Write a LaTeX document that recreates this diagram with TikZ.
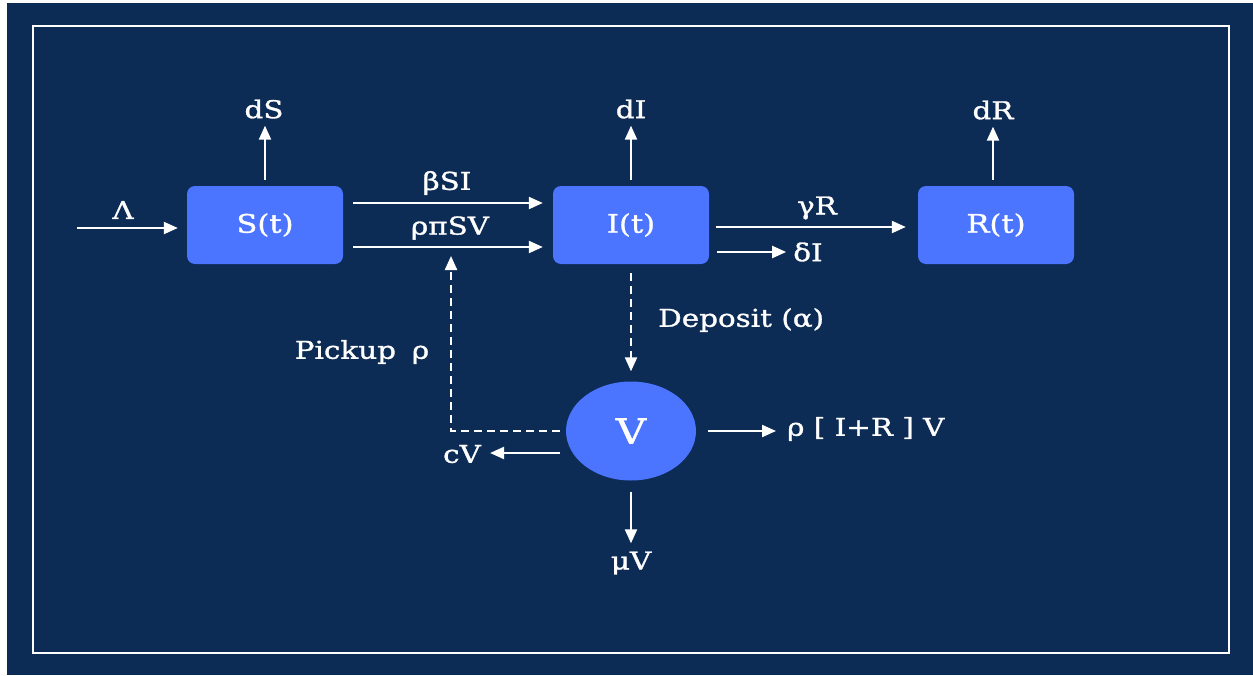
\documentclass[tikz,border=0pt]{standalone}
\usepackage{fontspec}
\setmainfont{DejaVu Serif}[FakeStretch=1.2,FakeBold=1.2]
\usetikzlibrary{arrows.meta,shapes.geometric}
\definecolor{navy}{RGB}{12,43,85}
\definecolor{boxblue}{RGB}{75,116,255}
\begin{document}
\begin{tikzpicture}[x=1pt,y=-1pt,
  box/.style={fill=boxblue,rounded corners=8pt,minimum width=156pt,minimum height=78pt,text=white,font=\fontsize{25.5}{29}\selectfont,inner sep=0pt},
  lbl/.style={text=white,font=\fontsize{24.5}{28}\selectfont,inner sep=2pt},
  arr/.style={draw=white,line width=2.2pt,-{Triangle[length=14pt,width=12pt]}},
  darr/.style={arr,dash pattern=on 8pt off 5pt}]
\useasboundingbox (0,0) rectangle (1253,675);
\fill[white] (0,0) rectangle (1253,675);
\fill[navy] (7,3) rectangle (1253,675);
\draw[white,line width=2.4pt] (33,26) rectangle (1229,653);

% compartments
\node[box] (S) at (265,225) {S(t)};
\node[box] (I) at (631,225) {I(t)};
\node[box] (R) at (996,225) {R(t)};
\node[ellipse,fill=boxblue,minimum width=130pt,minimum height=99pt,text=white,font=\fontsize{35}{39}\selectfont,inner sep=0pt] (V) at (631,431) {V};

% labels
\node[lbl] (lamL) at (123,210) {Λ};
\node[lbl] (dS) at (264,109) {dS};
\node[lbl] (dI) at (631,109) {dI};
\node[lbl] (dR) at (993,110) {dR};
\node[lbl] (bSI) at (447,183) {βSI};
\node[lbl] (rpSV) at (450,228) {ρπSV};
\node[lbl] (gR) at (817,208) {γR};
\node[lbl] (dI2) at (808,252) {δI};
\node[lbl,anchor=west] (dep) at (656,320) {Deposit (α)};
\node[lbl] (pick) at (362,352) {Pickup\hspace{0.65em}ρ};
\node[lbl] (cV) at (462,454) {cV};
\node[lbl,anchor=west] (rIRV) at (785,429) {ρ [ I+R ] V};
\node[lbl] (muV) at (631,563) {μV};

% inflow
\coordinate (lam0) at (77,228);
\draw[arr] (lam0) -- ([xshift=-9pt,yshift=-3pt]S.west);

% upward losses
\draw[arr,shorten <=6pt,shorten >=5pt] (S.north) -- (S.north |- dS.south);
\draw[arr,shorten <=6pt,shorten >=5pt] (I.north) -- (I.north |- dI.south);
\draw[arr,shorten <=6pt,shorten >=5pt] (dR |- R.north) -- (dR.south);

% transmissions
\draw[arr] ([xshift=10pt,yshift=22pt]S.east) -- ([xshift=-10pt,yshift=22pt]I.west);
\draw[arr] ([xshift=10pt,yshift=-22pt]S.east) -- ([xshift=-10pt,yshift=-22pt]I.west);
\draw[arr] ([xshift=7pt,yshift=-2pt]I.east) -- ([xshift=-12pt,yshift=-2pt]R.west);
\coordinate (dstart) at ([xshift=8pt,yshift=-27pt]I.east);
\draw[arr,shorten >=5pt] (dstart) -- (dstart -| dI2.west);

% deposit
\draw[darr,shorten <=9pt,shorten >=10pt] (I.south) -- (V.north);

% pickup
\coordinate (pk) at (451,431);
\coordinate (pktop) at (451,256);
\draw[darr] ([xshift=-6pt]V.west) -- (pk) -- (pktop);

% V outflows
\coordinate (cstart) at ([xshift=-6pt,yshift=-22pt]V.west);
\draw[arr,shorten >=7pt] (cstart) -- (cstart -| cV.east);
\coordinate (rstart) at ([xshift=12pt]V.east);
\draw[arr,shorten >=9pt] (rstart) -- (rstart -| rIRV.west);
\draw[arr,shorten <=11pt,shorten >=6pt] (V.south) -- (muV.north);
\end{tikzpicture}
\end{document}
